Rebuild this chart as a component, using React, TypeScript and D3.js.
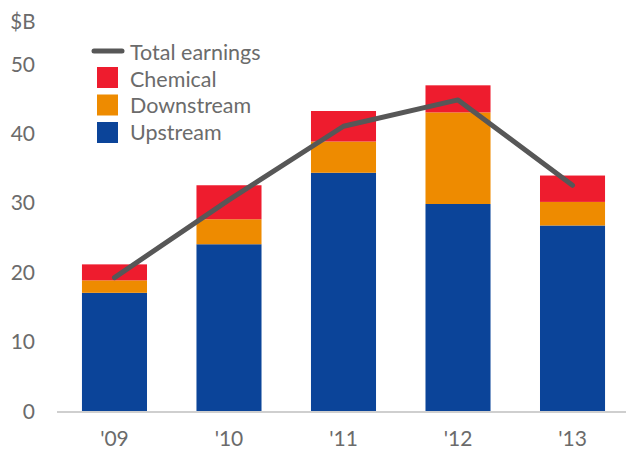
import React from "react";
import * as d3 from "d3";

const years = ["'09", "'10", "'11", "'12", "'13"];
const upstream = [17.1, 24.1, 34.4, 29.9, 26.8];
const downstream = [1.8, 3.6, 4.5, 13.2, 3.4];
const chemical = [2.3, 4.9, 4.4, 3.9, 3.8];
const totalEarnings = [19.3, 30.5, 41.1, 44.9, 32.6];
const yTicks = [0, 10, 20, 30, 40, 50];

const colors = { upstream: "#0b4499", downstream: "#ee8b00", chemical: "#ee1c2e", line: "#575757", text: "#6b6b6b" };
const font = "Lato, 'Open Sans', sans-serif";

export default function App() {
  const W = 626, H = 451;
  const x = d3.scaleBand<string>().domain(years).range([57, 630]).paddingInner(0.432).paddingOuter(0.218);
  const y = d3.scaleLinear().domain([0, 50]).range([411.5, 64.5]);
  const rows = years.map((yr, i) => ({ yr, upstream: upstream[i], downstream: downstream[i], chemical: chemical[i] }));
  const stack = d3.stack<any>().keys(["upstream", "downstream", "chemical"])(rows);
  const line = d3.line<number>().x((_, i) => (x(years[i]) as number) + x.bandwidth() / 2).y((d) => y(d));
  const legend = [
    { key: "chemical", label: "Chemical" },
    { key: "downstream", label: "Downstream" },
    { key: "upstream", label: "Upstream" },
  ];
  return (
    <svg width={W} height={H} style={{ position: "absolute", left: 0, top: 0, background: "#fff" }} fontFamily={font}>
      <text x={35.5} y={29} fontSize={20.5} fill={colors.text} textAnchor="end">$B</text>
      {yTicks.map((t) => (
        <text key={t} x={35} y={y(t) + 7} fontSize={21} fill={colors.text} textAnchor="end">{t}</text>
      ))}
      {stack.map((s) => (
        <g key={s.key} fill={(colors as any)[s.key]}>
          {s.map((d, i) => (
            <rect key={i} x={x(years[i])} width={x.bandwidth()} y={y(d[1])} height={y(d[0]) - y(d[1])} />
          ))}
        </g>
      ))}
      <line x1={57} x2={626} y1={y(0) + 0.5} y2={y(0) + 0.5} stroke="#cfcfcf" strokeWidth={2} />
      {years.map((yr) => (
        <text key={yr} x={(x(yr) as number) + x.bandwidth() / 2} y={446} fontSize={21} fill={colors.text} textAnchor="middle">{yr}</text>
      ))}
      <path d={line(totalEarnings) || ""} fill="none" stroke={colors.line} strokeWidth={5} strokeLinejoin="round" strokeLinecap="round" />
      <line x1={94} x2={122} y1={51} y2={51} stroke={colors.line} strokeWidth={5} strokeLinecap="round" />
      <text x={130} y={59.5} fontSize={21.5} fill={colors.text}>Total earnings</text>
      {legend.map((l, i) => (
        <g key={l.key}>
          <rect x={97} y={67 + i * 27.5} width={21} height={21} fill={(colors as any)[l.key]} />
          <text x={130} y={86.5 + i * 26.5} fontSize={21.5} fill={colors.text}>{l.label}</text>
        </g>
      ))}
    </svg>
  );
}
